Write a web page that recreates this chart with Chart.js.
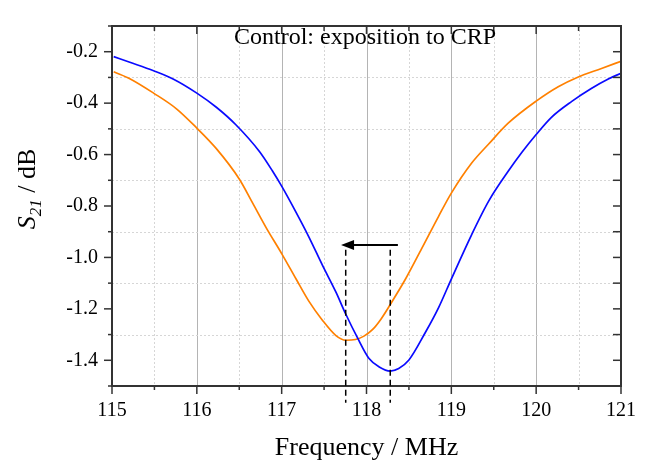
<!DOCTYPE html>
<html>
<head>
<meta charset="utf-8">
<script src="https://cdn.jsdelivr.net/npm/chart.js@4"></script>
<style>
  html, body { margin: 0; padding: 0; background: #fff; }
  #wrap { width: 649px; height: 462px; }
</style>
</head>
<body>
<div id="wrap"><canvas id="s21Chart"></canvas></div>
<script>
// data
const blueFreq = [115.02, 115.21, 115.49, 115.72, 116.0, 116.23, 116.46, 116.74, 116.89, 117.0, 117.17, 117.32, 117.48, 117.64, 117.755, 117.89, 118.03, 118.15, 118.28, 118.38, 118.50, 118.69, 118.85, 119.0, 119.24, 119.44, 119.67, 119.83, 120.0, 120.18, 120.42, 120.65, 120.85, 121.0];
const blueS21 = [-0.219, -0.241, -0.274, -0.306, -0.361, -0.416, -0.484, -0.589, -0.663, -0.723, -0.825, -0.920, -1.030, -1.135, -1.220, -1.310, -1.393, -1.426, -1.442, -1.432, -1.399, -1.294, -1.195, -1.084, -0.911, -0.781, -0.665, -0.592, -0.522, -0.455, -0.393, -0.343, -0.306, -0.284];

const orangeFreq = [115.02, 115.21, 115.49, 115.76, 116.0, 116.23, 116.50, 116.66, 116.82, 117.0, 117.17, 117.32, 117.48, 117.64, 117.755, 117.87, 117.97, 118.07, 118.17, 118.28, 118.46, 118.65, 118.85, 119.0, 119.24, 119.44, 119.67, 120.0, 120.26, 120.49, 120.77, 121.0];
const orangeS21 = [-0.278, -0.305, -0.361, -0.422, -0.497, -0.577, -0.695, -0.790, -0.886, -0.985, -1.084, -1.170, -1.244, -1.304, -1.322, -1.319, -1.306, -1.281, -1.240, -1.183, -1.084, -0.966, -0.840, -0.750, -0.633, -0.559, -0.478, -0.392, -0.336, -0.299, -0.265, -0.237];

const xTicks = [115, 116, 117, 118, 119, 120, 121];
const xMinor = [115.5, 116.5, 117.5, 118.5, 119.5, 120.5];
const yTicks = [-1.4, -1.2, -1.0, -0.8, -0.6, -0.4, -0.2];
const yMinor = [-1.5, -1.3, -1.1, -0.9, -0.7, -0.5, -0.3, -0.1];

// resonance shift marker
const peakBefore = 118.28;
const peakAfter = 117.755;
const arrowFrom = 118.37;
const arrowTo = 117.70;
const arrowLevel = -0.952;
const dashTop = -0.97;
const dashBottom = -1.565;

const serif = "'Liberation Serif', 'Times New Roman', serif";

const decor = {
  id: 'decor',
  beforeDatasetsDraw(chart) {
    const { ctx, chartArea: a, scales: { x, y } } = chart;
    ctx.save();
    // solid vertical lines at integers
    ctx.strokeStyle = '#b4b4b4';
    ctx.lineWidth = 1;
    xTicks.forEach(v => {
      const px = Math.round(x.getPixelForValue(v)) + 0.5;
      if (px <= a.left + 2 || px >= a.right - 2) return;
      ctx.beginPath(); ctx.moveTo(px, a.top); ctx.lineTo(px, a.bottom); ctx.stroke();
    });
    // dotted lines
    ctx.strokeStyle = '#d6d6d6';
    ctx.setLineDash([2, 2]);
    xMinor.forEach(v => {
      const px = Math.round(x.getPixelForValue(v)) + 0.5;
      ctx.beginPath(); ctx.moveTo(px, a.top); ctx.lineTo(px, a.bottom); ctx.stroke();
    });
    yMinor.forEach(v => {
      const py = Math.round(y.getPixelForValue(v)) + 0.5;
      if (py <= a.top + 2 || py >= a.bottom - 2) return;
      ctx.beginPath(); ctx.moveTo(a.left, py); ctx.lineTo(a.right, py); ctx.stroke();
    });
    ctx.restore();
  },
  afterDatasetsDraw(chart) {
    const { ctx, chartArea: a, scales: { x, y } } = chart;
    ctx.save();
    // frame
    ctx.strokeStyle = '#333';
    ctx.lineWidth = 2;
    ctx.strokeRect(a.left, a.top, a.right - a.left, a.bottom - a.top);

    // ticks: outside on left/bottom, inside on top/right
    ctx.lineWidth = 1.5;
    const seg = (x1, y1, x2, y2) => { ctx.beginPath(); ctx.moveTo(x1, y1); ctx.lineTo(x2, y2); ctx.stroke(); };
    xTicks.forEach(v => {
      const px = x.getPixelForValue(v);
      seg(px, a.bottom, px, a.bottom + 8);
      seg(px, a.top, px, a.top + 8);
    });
    xMinor.forEach(v => {
      const px = x.getPixelForValue(v);
      seg(px, a.bottom, px, a.bottom + 4);
      seg(px, a.top, px, a.top + 5);
    });
    yTicks.forEach(v => {
      const py = y.getPixelForValue(v);
      seg(a.left - 8, py, a.left, py);
      seg(a.right - 8, py, a.right, py);
    });
    yMinor.forEach(v => {
      const py = y.getPixelForValue(v);
      seg(a.left - 4, py, a.left, py);
      seg(a.right - 8, py, a.right, py);
    });

    // dashed verticals at both resonances
    ctx.strokeStyle = '#000';
    ctx.lineWidth = 1.5;
    ctx.setLineDash([6, 4]);
    [peakAfter, peakBefore].forEach(f => {
      const px = x.getPixelForValue(f);
      seg(px, y.getPixelForValue(dashTop), px, y.getPixelForValue(dashBottom));
    });
    ctx.setLineDash([]);

    // arrow
    const ay = y.getPixelForValue(arrowLevel);
    const ax1 = x.getPixelForValue(arrowFrom);
    const ax2 = x.getPixelForValue(arrowTo);
    ctx.lineWidth = 2;
    seg(ax1, ay, ax2 + 8, ay);
    ctx.fillStyle = '#000';
    ctx.beginPath();
    ctx.moveTo(ax2, ay);
    ctx.lineTo(ax2 + 13, ay - 5);
    ctx.lineTo(ax2 + 13, ay + 5);
    ctx.closePath();
    ctx.fill();

    // inner title
    ctx.fillStyle = '#000';
    ctx.font = '24px ' + serif;
    ctx.textAlign = 'center';
    ctx.textBaseline = 'alphabetic';
    ctx.fillText('Control: exposition to CRP', 365, 43.5);

    // x axis title
    ctx.font = '26px ' + serif;
    ctx.fillText('Frequency / MHz', (a.left + a.right) / 2, 455);

    // y axis title with subscript
    ctx.textAlign = 'left';
    const big = 'italic 26px ' + serif;
    const sub = 'italic 17px ' + serif;
    const rest = '26px ' + serif;
    ctx.font = big; const wS = ctx.measureText('S').width;
    ctx.font = sub; const w21 = ctx.measureText('21').width;
    ctx.font = rest; const wR = ctx.measureText(' / dB').width;
    const total = wS + w21 + wR;
    ctx.translate(35, 189);
    ctx.rotate(-Math.PI / 2);
    let cx = -total / 2;
    ctx.font = big; ctx.fillText('S', cx, 0); cx += wS;
    ctx.font = sub; ctx.fillText('21', cx, 6); cx += w21;
    ctx.font = rest; ctx.fillText(' / dB', cx, 0);
    ctx.restore();
  }
};

const toPoints = (fs, vs) => fs.map((f, i) => ({ x: f, y: vs[i] }));

new Chart(document.getElementById('s21Chart').getContext('2d'), {
  type: 'line',
  data: {
    datasets: [
      {
        label: 'before',
        data: toPoints(blueFreq, blueS21),
        borderColor: '#0a0aff',
        borderWidth: 1.7,
        pointRadius: 0,
        cubicInterpolationMode: 'monotone'
      },
      {
        label: 'after CRP',
        data: toPoints(orangeFreq, orangeS21),
        borderColor: '#ff8000',
        borderWidth: 1.7,
        pointRadius: 0,
        cubicInterpolationMode: 'monotone'
      }
    ]
  },
  options: {
    responsive: true,
    maintainAspectRatio: false,
    animation: false,
    layout: { padding: { left: 0, right: 24, top: 8, bottom: 0 } },
    plugins: {
      legend: { display: false },
      tooltip: { enabled: false }
    },
    scales: {
      x: {
        type: 'linear',
        min: 115,
        max: 121,
        grid: { display: false, drawTicks: false },
        border: { display: false },
        afterBuildTicks: s => { s.ticks = xTicks.map(v => ({ value: v })); },
        afterFit: s => { s.height = 76; },
        ticks: {
          padding: 13,
          color: '#000',
          font: { family: serif, size: 20 },
          callback: v => String(v)
        }
      },
      y: {
        min: -1.5,
        max: -0.1,
        grid: { display: false, drawTicks: false },
        border: { display: false },
        afterBuildTicks: s => { s.ticks = yTicks.map(v => ({ value: v })); },
        afterFit: s => { s.width = 112; },
        ticks: {
          padding: 14,
          color: '#000',
          font: { family: serif, size: 20 },
          callback: v => v.toFixed(1)
        }
      }
    }
  },
  plugins: [decor]
});
</script>
</body>
</html>
